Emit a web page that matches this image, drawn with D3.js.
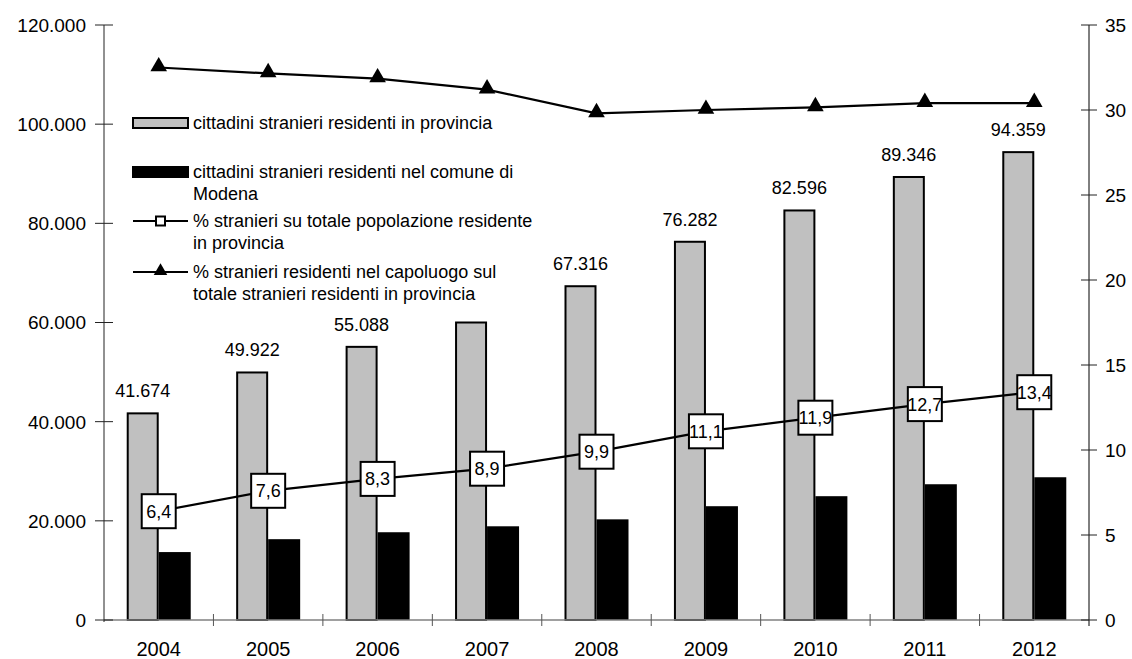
<!DOCTYPE html>
<html>
<head>
<meta charset="utf-8">
<script src="https://cdn.jsdelivr.net/npm/d3@7"></script>
<style>
  html, body { margin: 0; padding: 0; background: #fff; }
  svg { display: block; font-family: "Liberation Sans", Arial, sans-serif; }
</style>
</head>
<body>
<svg id="chart" width="1132" height="659"></svg>
<script>
// ---- data ----
const years = ["2004","2005","2006","2007","2008","2009","2010","2011","2012"];
const provincia = [41674, 49922, 55088, 60000, 67316, 76282, 82596, 89346, 94359];
const showProvLabel = [true, true, true, false, true, true, true, true, true];
const comune = [13700, 16300, 17700, 18900, 20300, 22950, 24970, 27380, 28790];
const pctPopolazione = [6.4, 7.6, 8.3, 8.9, 9.9, 11.1, 11.9, 12.7, 13.4];
const pctCapoluogo = [32.5, 32.15, 31.85, 31.2, 29.8, 30.0, 30.15, 30.4, 30.4];
const leftTicks = [0, 20000, 40000, 60000, 80000, 100000, 120000];
const rightTicks = [0, 5, 10, 15, 20, 25, 30, 35];
const legendLabels = [
  ["cittadini stranieri residenti in provincia"],
  ["cittadini stranieri residenti nel comune di", "Modena"],
  ["% stranieri su totale popolazione residente", "in provincia"],
  ["% stranieri residenti nel capoluogo sul", "totale stranieri residenti in provincia"]
];

(function () {
const it = d3.formatLocale({decimal: ",", thousands: ".", grouping: [3], currency: ["€", ""]});
const fmtInt = it.format(",d");
const fmtDec = it.format(",.1f");

const svg = d3.select("#chart");
const pL = 104, pR = 1089, pT = 25, pB = 620;

const x = d3.scaleBand().domain(years).range([pL, pR]).padding(0);
const cx = d => x(d) + x.bandwidth() / 2;
const sub = d3.scaleBand().domain(["prov", "com"]).range([-32, 32]).padding(0);
const yL = d3.scaleLinear().domain([0, 120000]).range([pB, pT]);
const yR = d3.scaleLinear().domain([0, 35]).range([pB, pT]);

// ---- bars ----
const g = svg.append("g");
g.selectAll("rect.prov").data(years).join("rect")
  .attr("x", (d) => cx(d) + sub("prov") + 1)
  .attr("y", (d, i) => yL(provincia[i]))
  .attr("width", sub.bandwidth() - 2)
  .attr("height", (d, i) => yL(0) - yL(provincia[i]))
  .attr("fill", "#c0c0c0").attr("stroke", "#000").attr("stroke-width", 2);

g.selectAll("rect.com").data(years).join("rect")
  .attr("x", (d) => cx(d) + sub("com"))
  .attr("y", (d, i) => yL(comune[i]))
  .attr("width", sub.bandwidth())
  .attr("height", (d, i) => yL(0) - yL(comune[i]))
  .attr("fill", "#000");

// value labels
g.selectAll("text.val").data(years.filter((d, i) => showProvLabel[i])).join("text")
  .attr("x", d => cx(d) + sub("prov") + sub.bandwidth() / 2)
  .attr("y", d => yL(provincia[years.indexOf(d)]) - 16)
  .attr("text-anchor", "middle").attr("font-size", 18).attr("fill", "#000")
  .text(d => fmtInt(provincia[years.indexOf(d)]));

// ---- x axis ----
svg.append("line").attr("x1", pL).attr("x2", pR).attr("y1", pB).attr("y2", pB)
  .attr("stroke", "#808080").attr("stroke-width", 1.5);
const bounds = years.slice(1).map(d => x(d));
svg.selectAll("line.xt").data(bounds).join("line")
  .attr("x1", d => d).attr("x2", d => d).attr("y1", pB - 6).attr("y2", pB + 6)
  .attr("stroke", "#555").attr("stroke-width", 1);
svg.selectAll("text.yr").data(years).join("text")
  .attr("x", d => cx(d)).attr("y", 656)
  .attr("text-anchor", "middle").attr("font-size", 20).text(d => d);

// ---- left axis ----
svg.append("line").attr("x1", pL).attr("x2", pL).attr("y1", pT).attr("y2", pB + 2)
  .attr("stroke", "#222").attr("stroke-width", 1);
svg.selectAll("line.lt").data(leftTicks).join("line")
  .attr("x1", pL - 9).attr("x2", pL + 9).attr("y1", d => yL(d)).attr("y2", d => yL(d))
  .attr("stroke", "#222");
svg.selectAll("text.lt").data(leftTicks).join("text")
  .attr("x", 86).attr("y", d => yL(d)).attr("dy", "0.36em")
  .attr("text-anchor", "end").attr("font-size", 19).text(d => fmtInt(d));

// ---- right axis ----
svg.append("line").attr("x1", pR).attr("x2", pR).attr("y1", pT).attr("y2", pB + 6)
  .attr("stroke", "#000").attr("stroke-width", 1);
svg.selectAll("line.rt").data(rightTicks).join("line")
  .attr("x1", pR - 8).attr("x2", pR + 8).attr("y1", d => yR(d)).attr("y2", d => yR(d))
  .attr("stroke", "#222");
svg.selectAll("text.rt").data(rightTicks).join("text")
  .attr("x", 1105).attr("y", d => yR(d)).attr("dy", "0.36em")
  .attr("text-anchor", "start").attr("font-size", 19).text(d => d);

// ---- line: % capoluogo (triangles) ----
const line = d3.line();
svg.append("path")
  .attr("d", line(years.map((d, i) => [cx(d), yR(pctCapoluogo[i])])))
  .attr("fill", "none").attr("stroke", "#000").attr("stroke-width", 2.2);
const tri = d3.symbol().type(d3.symbolTriangle).size(120);
svg.selectAll("path.tri").data(years).join("path")
  .attr("transform", (d, i) => `translate(${cx(d)},${yR(pctCapoluogo[i]) - 1})`)
  .attr("d", tri()).attr("fill", "#000");

// ---- line: % popolazione (boxed labels) ----
svg.append("path")
  .attr("d", line(years.map((d, i) => [cx(d), yR(pctPopolazione[i])])))
  .attr("fill", "none").attr("stroke", "#000").attr("stroke-width", 2.2);
const bx = svg.selectAll("g.box").data(years).join("g")
  .attr("transform", (d, i) => `translate(${cx(d)},${yR(pctPopolazione[i])})`);
bx.append("rect").attr("x", -17).attr("y", -17).attr("width", 34).attr("height", 34)
  .attr("fill", "#fff").attr("stroke", "#000").attr("stroke-width", 2);
bx.append("text").attr("text-anchor", "middle").attr("dy", "0.36em").attr("font-size", 18)
  .text((d, i) => fmtDec(pctPopolazione[i]));

// ---- legend ----
const legY = [123, 172, 221, 272];
const lg = svg.append("g");
const sw0 = 133, sw1 = 188, tx = 193;
lg.append("rect").attr("x", sw0).attr("y", legY[0] - 5).attr("width", sw1 - sw0).attr("height", 10)
  .attr("fill", "#c0c0c0").attr("stroke", "#000").attr("stroke-width", 2);
lg.append("rect").attr("x", sw0 - 1).attr("y", legY[1] - 6).attr("width", sw1 - sw0 + 2).attr("height", 12)
  .attr("fill", "#000");
lg.append("line").attr("x1", sw0).attr("x2", sw1).attr("y1", legY[2]).attr("y2", legY[2])
  .attr("stroke", "#000").attr("stroke-width", 2);
lg.append("rect").attr("x", (sw0 + sw1) / 2 - 4.5).attr("y", legY[2] - 4.5).attr("width", 9).attr("height", 9)
  .attr("fill", "#fff").attr("stroke", "#000").attr("stroke-width", 2);
lg.append("line").attr("x1", sw0).attr("x2", sw1).attr("y1", legY[3]).attr("y2", legY[3])
  .attr("stroke", "#000").attr("stroke-width", 2);
lg.append("path").attr("transform", `translate(${(sw0 + sw1) / 2},${legY[3] - 1})`)
  .attr("d", d3.symbol().type(d3.symbolTriangle).size(80)()).attr("fill", "#000");

legendLabels.forEach((lines, k) => {
  lines.forEach((t, j) => {
    lg.append("text").attr("x", tx).attr("y", legY[k] + j * 22).attr("dy", "0.36em")
      .attr("font-size", 18).text(t);
  });
});
})();
</script>
</body>
</html>
